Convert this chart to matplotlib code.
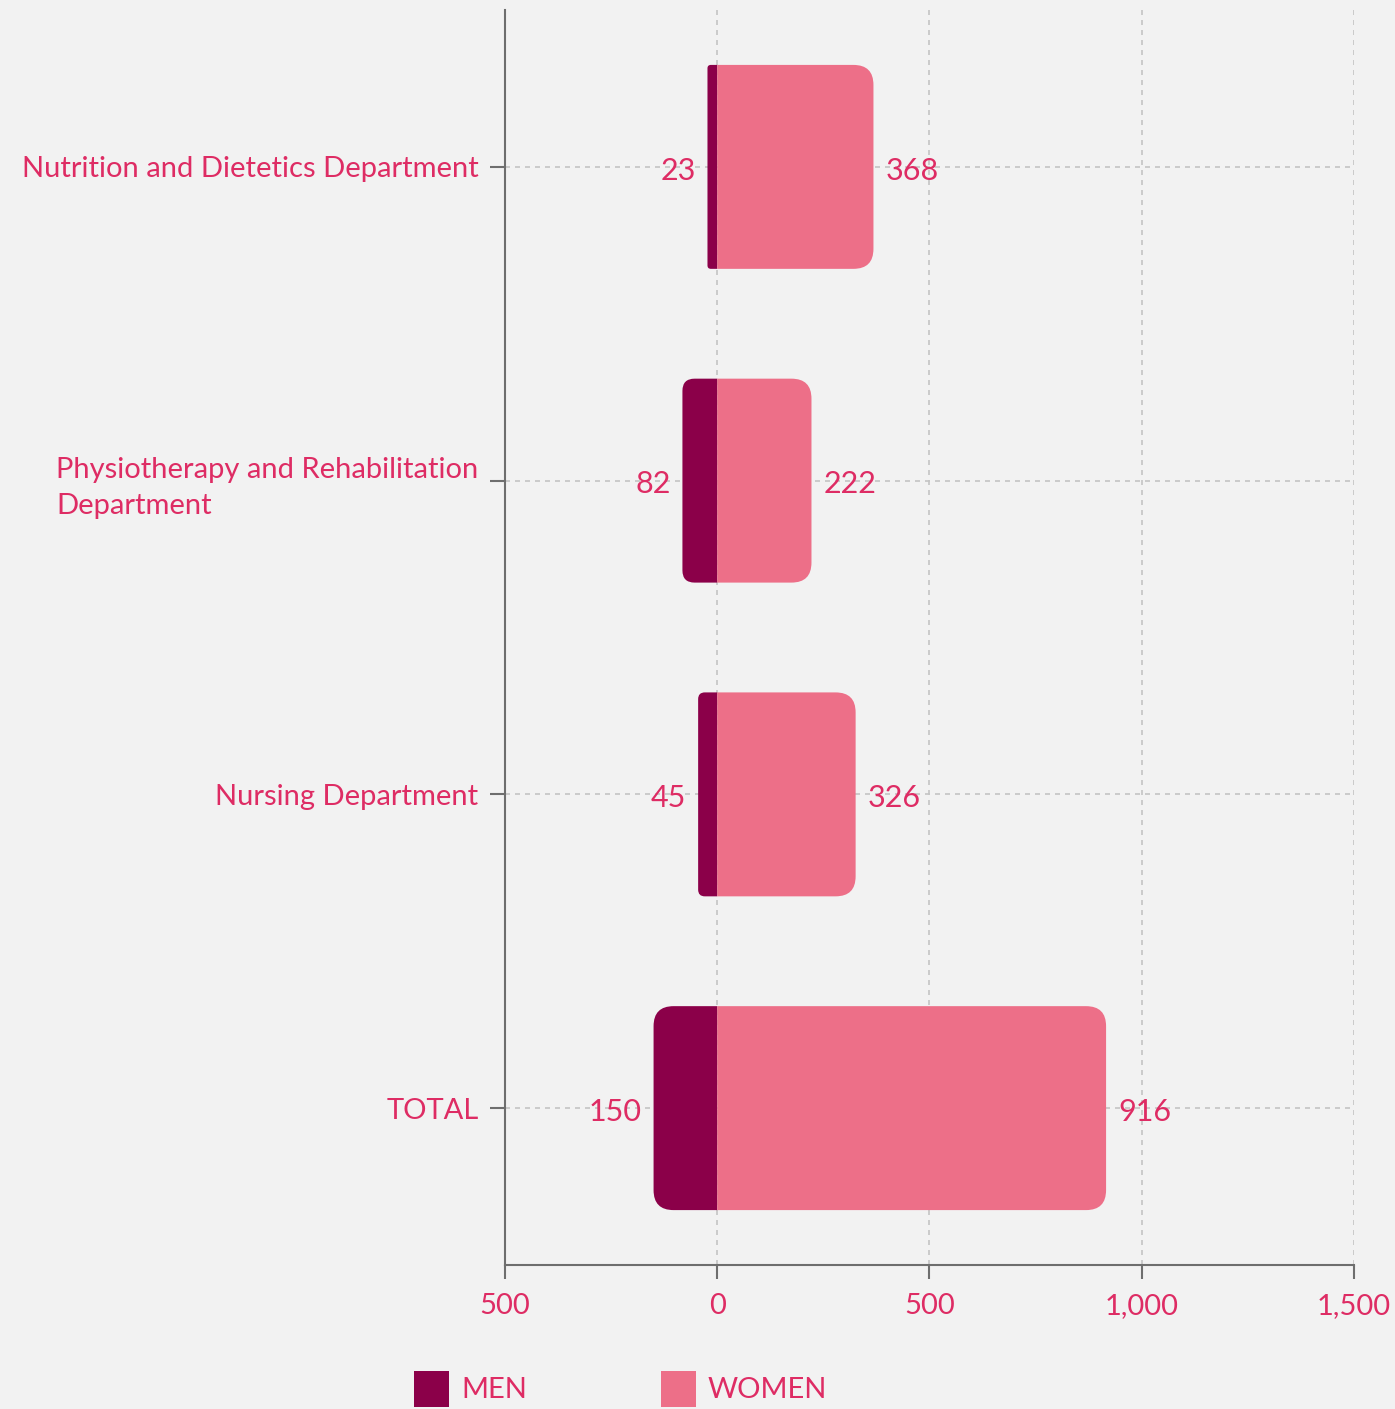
import matplotlib
matplotlib.use("Agg")
import matplotlib.pyplot as plt
from matplotlib.patches import PathPatch, Rectangle
from matplotlib.path import Path
from matplotlib.ticker import FuncFormatter, FixedLocator

# ── data ──────────────────────────────────────────────────────────────────────
CATEGORIES = ["Nutrition and Dietetics Department",
              "Physiotherapy and Rehabilitation\nDepartment",
              "Nursing Department",
              "TOTAL"]
MEN   = [23, 82, 45, 150]
WOMEN = [368, 222, 326, 916]

# ── style ─────────────────────────────────────────────────────────────────────
BG       = "#f2f2f2"
C_MEN    = "#8b0049"
C_WOMEN  = "#ed6f88"
C_TEXT   = "#de2c64"
C_AXIS   = "#6e6e6e"
FONT     = ["Lato", "DejaVu Sans"]
BAR_H    = 0.65
XMIN, XMAX = -500, 1500

plt.rcParams["font.family"] = FONT

fig = plt.figure(figsize=(13.95, 14.09), dpi=100, facecolor=BG)
ax = fig.add_axes([0.362, 0.1022, 0.6086, 0.8907], facecolor=BG)
ax.set_xlim(XMIN, XMAX)
ax.set_ylim(3.5, -0.5)

# pixel scale, used to keep corner radii round
fig.canvas.draw()
bb = ax.get_window_extent()
px_x = bb.width / (XMAX - XMIN)      # px per data unit in x
px_y = bb.height / 4.0               # px per data unit in y


def rounded_bar(x0, x1, y, color, outer_left):
    """bar from x0 to x1, rounded only on the side away from zero"""
    w = x1 - x0
    r_px = min(20, w * px_x * 0.35)
    rx, ry = r_px / px_x, r_px / px_y
    y0, y1 = y - BAR_H / 2, y + BAR_H / 2
    if outer_left:
        verts = [(x1, y0), (x1, y1), (x0 + rx, y1), (x0, y1), (x0, y1 - ry),
                 (x0, y0 + ry), (x0, y0), (x0 + rx, y0), (x1, y0)]
    else:
        verts = [(x0, y0), (x0, y1), (x1 - rx, y1), (x1, y1), (x1, y1 - ry),
                 (x1, y0 + ry), (x1, y0), (x1 - rx, y0), (x0, y0)]
    codes = [Path.MOVETO, Path.LINETO, Path.LINETO, Path.CURVE3, Path.CURVE3,
             Path.LINETO, Path.CURVE3, Path.CURVE3, Path.CLOSEPOLY]
    ax.add_patch(PathPatch(Path(verts, codes), fc=color, ec="none", zorder=3))


for i, (m, w) in enumerate(zip(MEN, WOMEN)):
    rounded_bar(-m, 0, i, C_MEN, outer_left=True)
    rounded_bar(0, w, i, C_WOMEN, outer_left=False)
    ax.text(-m - 28, i + 0.012, f"{m}", ha="right", va="center", color=C_TEXT, fontsize=22)
    ax.text(w + 28, i + 0.012, f"{w}", ha="left", va="center", color=C_TEXT, fontsize=22)

# axes cosmetics
ax.set_yticks(range(len(CATEGORIES)))
ax.set_yticklabels(CATEGORIES, color=C_TEXT, fontsize=21)
for t in ax.get_yticklabels():
    t.set_multialignment("left")
    t.set_linespacing(1.45)
ax.xaxis.set_major_locator(FixedLocator([-500, 0, 500, 1000, 1500]))
ax.xaxis.set_major_formatter(FuncFormatter(lambda v, _: f"{abs(int(v)):,}"))
ax.tick_params(axis="x", colors=C_AXIS, length=10, width=1.5, labelcolor=C_TEXT,
               labelsize=21, pad=10)
ax.tick_params(axis="y", colors=C_AXIS, length=11, width=1.5, labelcolor=C_TEXT, pad=8)

for s in ["top", "right"]:
    ax.spines[s].set_visible(False)
for s in ["left", "bottom"]:
    ax.spines[s].set_color(C_AXIS)
    ax.spines[s].set_linewidth(1.5)

ax.grid(True, color="#c4c4c4", linestyle=(0, (3, 3)), linewidth=1.2, zorder=0)
ax.set_axisbelow(True)

# legend
leg = fig.legend([Rectangle((0, 0), 1, 1, fc=C_MEN, ec="none"),
                  Rectangle((0, 0), 1, 1, fc=C_WOMEN, ec="none")],
                 ["MEN", "WOMEN"], loc="upper left", bbox_to_anchor=(0.297, 0.027),
                 ncol=2, frameon=False, fontsize=21, handlelength=1.2, handleheight=1.5,
                 handletextpad=0.4, columnspacing=4.6, borderaxespad=0, borderpad=0)
for t in leg.get_texts():
    t.set_color(C_TEXT)

fig.savefig("out.png", dpi=100, facecolor=BG)
